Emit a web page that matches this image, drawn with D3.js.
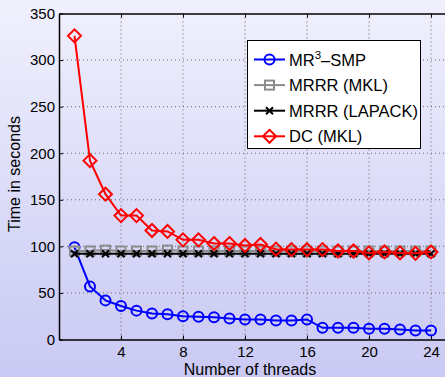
<!DOCTYPE html>
<html>
<head>
<meta charset="utf-8">
<script src="https://cdn.jsdelivr.net/npm/d3@7"></script>
<style>
  html, body { margin: 0; padding: 0; overflow: hidden; }
  svg { display: block; font-family: "Liberation Sans", Arial, sans-serif; }
</style>
</head>
<body>
<div id="chart"></div>
<script>
// threads 1..24
var threads = [1,2,3,4,5,6,7,8,9,10,11,12,13,14,15,16,17,18,19,20,21,22,23,24];
var mr3smp  = [99,57,42,36,31,28,27,25,24.5,24,22.5,21.5,21.5,20.5,20.5,21.5,12.5,12.5,12.5,11.5,11.5,10.7,9.7,9.7];
var mrrrMkl = [95,95,96,95,95,95,96,95,95,95,95,95,95,95,95,95,95,95,95,95,95,95,95,95];
var mrrrLapack = [92,92,92,92,92,92,92,92,92,92,92,92,92,92,92,92,92,92,92,92,92,92,92,92];
var dcMkl   = [326,192,156,133,133,117,116,107,107,103,103,101,102,97,96.5,96.5,96.5,95,95,93,94,93,92.5,94];
var xTicks = [4,8,12,16,20,24];
var yTicks = [0,50,100,150,200,250,300,350];

var W = 445, H = 377;
var svg = d3.select('#chart').append('svg')
    .attr('width', W)
    .attr('height', H);

var defs = svg.append('defs');
var grad = defs.append('linearGradient')
    .attr('id', 'bg').attr('x1', 0).attr('y1', 0).attr('x2', 0).attr('y2', 1);
grad.append('stop').attr('offset', '0%').attr('stop-color', '#f0f0fd');
grad.append('stop').attr('offset', '100%').attr('stop-color', '#c9c9f4');
svg.append('rect').attr('width', W).attr('height', H).attr('fill', 'url(#bg)');

var plotLeft = 59, plotTop = 13.5, plotBottom = 339.5;
var x = d3.scaleLinear().domain([0, 25.4]).range([plotLeft, plotLeft + 25.4 * 15.5]);
var y = d3.scaleLinear().domain([0, 350]).range([plotBottom, plotTop]);

// grid
var grid = svg.append('g');
grid.selectAll('.gx').data(xTicks).enter().append('line')
    .attr('x1', function(d) { return x(d); }).attr('x2', function(d) { return x(d); })
    .attr('y1', plotTop).attr('y2', plotBottom)
    .attr('stroke', '#666').attr('stroke-width', 1).attr('stroke-dasharray', '1,3');
grid.selectAll('.gy').data(yTicks.slice(1, -1)).enter().append('line')
    .attr('x1', plotLeft).attr('x2', x.range()[1])
    .attr('y1', function(d) { return y(d); }).attr('y2', function(d) { return y(d); })
    .attr('stroke', '#666').attr('stroke-width', 1).attr('stroke-dasharray', '1,3');

// axes (inward ticks)
var xAxis = d3.axisBottom(x).tickValues(xTicks).tickSizeInner(-4).tickSizeOuter(0).tickPadding(7);
var gx = svg.append('g').attr('transform', 'translate(0,' + plotBottom + ')').call(xAxis);
var gxTop = svg.append('g').attr('transform', 'translate(0,' + plotTop + ')')
    .call(d3.axisTop(x).tickValues(xTicks).tickSizeInner(-4).tickSizeOuter(0).tickFormat(''));
var yAxis = d3.axisLeft(y).tickValues(yTicks).tickSizeInner(-4).tickSizeOuter(0).tickPadding(4);
var gy = svg.append('g').attr('transform', 'translate(' + plotLeft + ',0)').call(yAxis);
[gx, gxTop, gy].forEach(function(g) {
    g.select('.domain').attr('stroke', '#000').attr('stroke-width', 1.5);
    g.selectAll('.tick line').attr('stroke', '#000');
    g.selectAll('text').attr('font-size', 15).attr('fill', '#000')
        .attr('font-family', '"Liberation Sans", Arial, sans-serif');
});

svg.append('text')
    .attr('x', 250).attr('y', 375)
    .attr('text-anchor', 'middle').attr('font-size', 16)
    .text('Number of threads');
svg.append('text')
    .attr('transform', 'translate(20,174) rotate(-90)')
    .attr('text-anchor', 'middle').attr('font-size', 16)
    .text('Time in seconds');

// series
var series = [
    { name: 'mr3', values: mr3smp, color: '#0000ff', marker: 'circle' },
    { name: 'mkl', values: mrrrMkl, color: '#8c8c8c', marker: 'square' },
    { name: 'lapack', values: mrrrLapack, color: '#000000', marker: 'cross' },
    { name: 'dc', values: dcMkl, color: '#ff0000', marker: 'diamond' }
];

function drawMarker(g, type, color, cx, cy) {
    if (type === 'circle') {
        g.append('circle').attr('cx', cx).attr('cy', cy).attr('r', 5)
            .attr('fill', 'none').attr('stroke', color).attr('stroke-width', 2);
    } else if (type === 'square') {
        g.append('rect').attr('x', cx - 4.5).attr('y', cy - 4.5).attr('width', 9).attr('height', 9)
            .attr('fill', 'none').attr('stroke', color).attr('stroke-width', 2);
    } else if (type === 'cross') {
        g.append('path').attr('d', 'M' + (cx - 3.5) + ',' + (cy - 3.5) + 'L' + (cx + 3.5) + ',' + (cy + 3.5) +
            'M' + (cx - 3.5) + ',' + (cy + 3.5) + 'L' + (cx + 3.5) + ',' + (cy - 3.5))
            .attr('stroke', color).attr('stroke-width', 2);
    } else {
        g.append('path').attr('d', 'M' + cx + ',' + (cy - 6.5) + 'L' + (cx + 6.5) + ',' + cy + 'L' + cx + ',' + (cy + 6.5) + 'L' + (cx - 6.5) + ',' + cy + 'Z')
            .attr('fill', 'none').attr('stroke', color).attr('stroke-width', 2);
    }
}

var line = d3.line()
    .x(function(d) { return x(d[0]); })
    .y(function(d) { return y(d[1]); });

series.forEach(function(s) {
    var pts = threads.map(function(t, i) { return [t, s.values[i]]; });
    var g = svg.append('g').attr('class', 'series-' + s.name);
    g.append('path').datum(pts)
        .attr('d', line)
        .attr('fill', 'none')
        .attr('stroke', s.color)
        .attr('stroke-width', 2);
    pts.forEach(function(p) { drawMarker(g, s.marker, s.color, x(p[0]), y(p[1])); });
});

// legend
var lg = svg.append('g');
lg.append('rect').attr('x', 247.5).attr('y', 40.5).attr('width', 173).attr('height', 108)
    .attr('fill', '#fff').attr('stroke', '#000').attr('stroke-width', 1);
var legendRows = [
    { s: series[0], label: 'MR', sup: '3', rest: '\u2013SMP' },
    { s: series[1], label: 'MRRR (MKL)' },
    { s: series[2], label: 'MRRR (LAPACK)' },
    { s: series[3], label: 'DC (MKL)' }
];
legendRows.forEach(function(r, i) {
    var ly = 59.5 + i * 25.6;
    lg.append('line').attr('x1', 254).attr('x2', 285).attr('y1', ly).attr('y2', ly)
        .attr('stroke', r.s.color).attr('stroke-width', 2);
    drawMarker(lg, r.s.marker, r.s.color, 269.5, ly);
    var t = lg.append('text').attr('x', 289).attr('y', ly + 6).attr('font-size', 16.5);
    t.append('tspan').text(r.label);
    if (r.sup) {
        t.append('tspan').attr('dy', -7).attr('font-size', 11.5).text(r.sup);
        t.append('tspan').attr('dy', 7).text(r.rest);
    }
});
</script>
</body>
</html>
